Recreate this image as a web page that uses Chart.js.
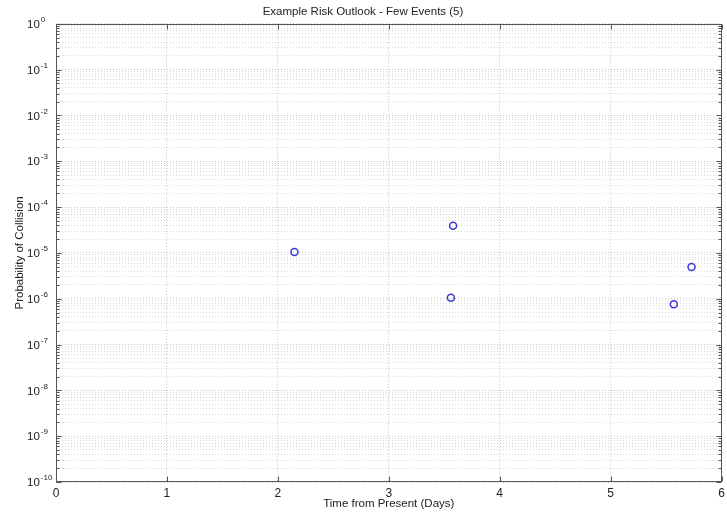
<!DOCTYPE html>
<html>
<head>
<meta charset="utf-8">
<script src="https://cdn.jsdelivr.net/npm/chart.js@4.4.0/dist/chart.umd.min.js"></script>
<style>
  html, body { margin: 0; padding: 0; background: #fff; }
  #wrap { width: 727px; height: 518px; }
</style>
</head>
<body>
<div id="wrap"><canvas id="riskChart"></canvas></div>
<script>
// event data
const eventDays = [2.15, 3.58, 3.56, 5.57, 5.73];
const collisionProb = [1.05e-5, 3.9e-5, 1.05e-6, 7.6e-7, 4.9e-6];

// axis ticks
const dayTicks = [0, 1, 2, 3, 4, 5, 6];
const decadeExps = [-10, -9, -8, -7, -6, -5, -4, -3, -2, -1, 0];

const FONT = "'Liberation Sans', Arial, sans-serif";
const TEXT = '#222';

const isDecade = (v) => {
  const l = Math.log10(v);
  return Math.abs(l - Math.round(l)) < 1e-9;
};

// log ticks: 1..9 per decade
const buildLogTicks = () => {
  const ticks = [];
  decadeExps.forEach((e, i) => {
    if (i === decadeExps.length - 1) {
      ticks.push({ value: Math.pow(10, e), major: true });
      return;
    }
    for (let m = 1; m <= 9; m++) {
      ticks.push({ value: m * Math.pow(10, e), major: m === 1 });
    }
  });
  return ticks;
};

// box round the plot, inward tick marks and 10^n labels, matlab style
const axisFrame = {
  id: 'axisFrame',
  afterDraw(chart) {
    const { ctx, chartArea: a, scales: { x, y } } = chart;
    const L = Math.round(a.left) + 0.5, R = Math.round(a.right) - 0.5;
    const T = Math.round(a.top) + 0.5, B = Math.round(a.bottom) - 0.5;
    ctx.save();
    ctx.strokeStyle = '#555';
    ctx.lineWidth = 1;
    ctx.beginPath();
    y.ticks.forEach(t => {
      const py = Math.round(y.getPixelForValue(t.value)) + 0.5;
      const len = t.major ? 5 : 3;
      ctx.moveTo(L, py); ctx.lineTo(L + len, py);
      ctx.moveTo(R, py); ctx.lineTo(R - len, py);
    });
    x.ticks.forEach(t => {
      const px = Math.round(x.getPixelForValue(t.value)) + 0.5;
      ctx.moveTo(px, B); ctx.lineTo(px, B - 5);
      ctx.moveTo(px, T); ctx.lineTo(px, T + 5);
    });
    ctx.stroke();
    ctx.strokeRect(L, T, R - L, B - T);

    // decade labels with raised exponent
    ctx.fillStyle = TEXT;
    ctx.textBaseline = 'middle';
    ctx.textAlign = 'left';
    decadeExps.forEach(e => {
      const py = y.getPixelForValue(Math.pow(10, e));
      ctx.font = '11.5px ' + FONT;
      ctx.fillText('10', 27, py + 1);
      const w = ctx.measureText('10').width;
      ctx.font = '8px ' + FONT;
      ctx.fillText(String(e), 27 + w + 1, py - 4);
    });
    ctx.restore();
  }
};

new Chart(document.getElementById('riskChart'), {
  type: 'scatter',
  data: {
    datasets: [{
      label: 'Events',
      data: eventDays.map((d, i) => ({ x: d, y: collisionProb[i] })),
      pointStyle: 'circle',
      pointRadius: 3.5,
      pointBorderWidth: 1.5,
      borderColor: '#3a3ad6',
      backgroundColor: 'rgba(0,0,0,0)',
      showLine: false
    }]
  },
  options: {
    responsive: true,
    maintainAspectRatio: false,
    devicePixelRatio: 1,
    animation: false,
    layout: { padding: { left: 0, right: 1, top: 0, bottom: 0 } },
    plugins: {
      legend: { display: false },
      tooltip: { enabled: false },
      title: {
        display: true,
        text: 'Example Risk Outlook - Few Events (5)',
        color: TEXT,
        font: { family: FONT, size: 11.5, weight: 'normal' },
        padding: { top: 5, bottom: 5 }
      }
    },
    scales: {
      x: {
        type: 'linear',
        min: 0,
        max: 6,
        afterBuildTicks: (s) => { s.ticks = dayTicks.map(v => ({ value: v, major: true })); },
        afterFit: (s) => { s.height = 36; s.paddingLeft = 0; s.paddingRight = 0; },
        ticks: { color: TEXT, font: { family: FONT, size: 12 }, padding: 4, maxRotation: 0, autoSkip: false },
        grid: { color: '#c8c8c8', lineWidth: 1, drawTicks: false, borderDash: [1, 2] },
        border: { display: false, dash: [1, 2] },
        title: {
          display: true,
          text: 'Time from Present (Days)',
          color: TEXT,
          font: { family: FONT, size: 11.5 },
          padding: { top: 0, bottom: 7 }
        }
      },
      y: {
        type: 'logarithmic',
        min: 1e-10,
        max: 1,
        afterBuildTicks: (s) => { s.ticks = buildLogTicks(); },
        afterFit: (s) => { s.width = 56; },
        ticks: {
          display: true,
          color: 'rgba(0,0,0,0)',
          font: { family: FONT, size: 11 },
          padding: 8,
          autoSkip: false,
          callback: (v) => isDecade(v) ? '10' + Math.round(Math.log10(v)) : ''
        },
        grid: {
          color: (c) => (c.tick && c.tick.major) ? '#c8c8c8' : '#d8d8d8',
          lineWidth: 1,
          drawTicks: false,
          borderDash: [1, 2]
        },
        border: { display: false, dash: [1, 2] },
        title: {
          display: true,
          text: 'Probability of Collision',
          color: TEXT,
          font: { family: FONT, size: 11.5 },
          padding: { top: 13, bottom: 0 }
        }
      }
    }
  },
  plugins: [axisFrame]
});
</script>
</body>
</html>
